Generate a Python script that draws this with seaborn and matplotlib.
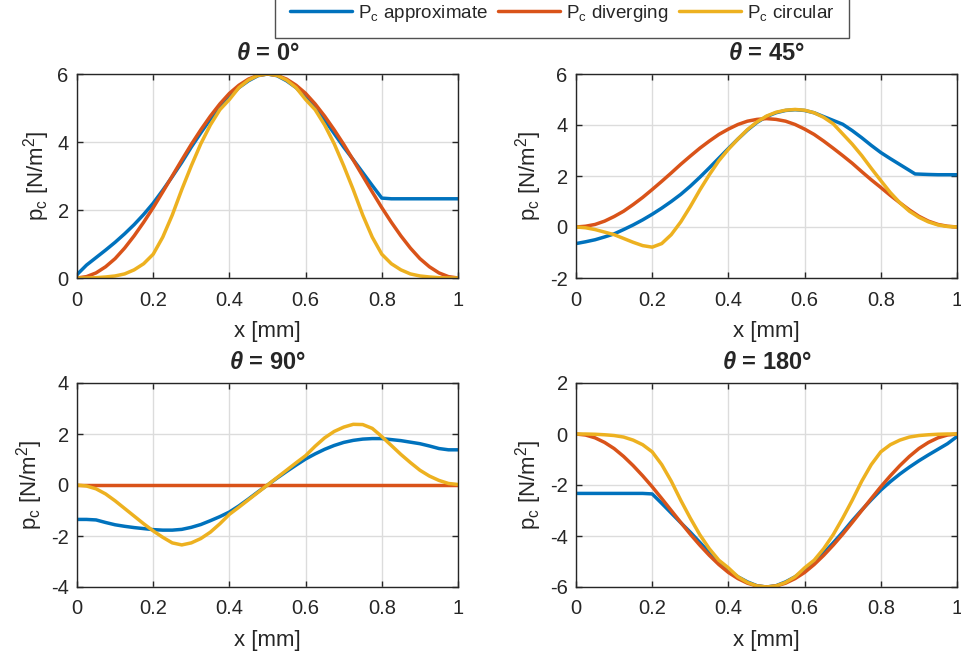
import numpy as np
import pandas as pd
import matplotlib
matplotlib.use("Agg")
import matplotlib.pyplot as plt
import seaborn as sns

# ---------------- data ----------------
x = [0.0, 0.025, 0.05, 0.075, 0.1, 0.125, 0.15, 0.175, 0.2, 0.225, 0.25, 0.275, 0.3, 0.325,
     0.35, 0.375, 0.4, 0.425, 0.45, 0.475, 0.5, 0.525, 0.55, 0.575, 0.6, 0.625, 0.65, 0.675,
     0.7, 0.725, 0.75, 0.775, 0.8, 0.825, 0.85, 0.875, 0.9, 0.925, 0.95, 0.975, 1.0]

# theta = 0
approx_0 = [0.1, 0.38, 0.6, 0.82, 1.05, 1.3, 1.57, 1.87, 2.2, 2.58, 2.98, 3.4, 3.85, 4.27,
            4.67, 5.02, 5.33, 5.6, 5.8, 5.95, 6.0, 5.95, 5.8, 5.6, 5.33, 5.0, 4.65, 4.25,
            3.85, 3.48, 3.1, 2.72, 2.35, 2.33, 2.33, 2.33, 2.33, 2.33, 2.33, 2.33, 2.33]
diverg_0 = [0.0, 0.04, 0.15, 0.33, 0.57, 0.88, 1.24, 1.64, 2.07, 2.53, 3.0, 3.47, 3.93, 4.36,
            4.76, 5.12, 5.43, 5.67, 5.85, 5.96, 6.0, 5.96, 5.85, 5.67, 5.43, 5.12, 4.76, 4.36,
            3.93, 3.47, 3.0, 2.53, 2.07, 1.64, 1.24, 0.88, 0.57, 0.33, 0.15, 0.04, 0.0]
circ_0 = [0.0, 0.0, 0.01, 0.03, 0.06, 0.12, 0.24, 0.42, 0.7, 1.2, 1.85, 2.6, 3.3, 3.95,
          4.5, 4.95, 5.25, 5.6, 5.82, 5.96, 6.0, 5.96, 5.82, 5.6, 5.25, 4.95, 4.5, 3.95,
          3.3, 2.6, 1.85, 1.2, 0.7, 0.42, 0.24, 0.12, 0.06, 0.03, 0.01, 0.0, 0.0]

# theta = 45
x_approx_45 = [0.0, 0.025, 0.05, 0.075, 0.1, 0.125, 0.15, 0.175, 0.2, 0.225, 0.25, 0.275, 0.3,
               0.325, 0.35, 0.375, 0.4, 0.425, 0.45, 0.475, 0.5, 0.525, 0.55, 0.575, 0.6, 0.625,
               0.65, 0.675, 0.7, 0.725, 0.75, 0.775, 0.8, 0.825, 0.85, 0.875, 0.89, 0.925,
               0.95, 0.975, 1.0]
approx_45 = [-0.65, -0.58, -0.5, -0.39, -0.27, -0.1, 0.08, 0.28, 0.5, 0.74, 1.0, 1.28, 1.6,
             1.95, 2.32, 2.7, 3.08, 3.45, 3.8, 4.1, 4.33, 4.48, 4.57, 4.6, 4.57, 4.48, 4.33,
             4.18, 4.03, 3.78, 3.5, 3.2, 2.92, 2.68, 2.45, 2.22, 2.08, 2.06, 2.05, 2.05, 2.05]
diverg_45 = [0.0, 0.03, 0.1, 0.23, 0.41, 0.62, 0.88, 1.16, 1.47, 1.79, 2.12, 2.46, 2.78, 3.09,
             3.37, 3.63, 3.84, 4.02, 4.15, 4.22, 4.25, 4.22, 4.15, 4.02, 3.84, 3.63, 3.37, 3.09,
             2.8, 2.5, 2.17, 1.85, 1.55, 1.24, 0.95, 0.67, 0.42, 0.23, 0.1, 0.03, 0.0]
circ_45 = [0.0, -0.03, -0.1, -0.2, -0.3, -0.45, -0.6, -0.73, -0.79, -0.65, -0.3, 0.2, 0.8,
           1.45, 2.05, 2.6, 3.05, 3.45, 3.82, 4.12, 4.35, 4.5, 4.58, 4.61, 4.58, 4.48, 4.3,
           4.05, 3.65, 3.25, 2.8, 2.3, 1.82, 1.35, 0.95, 0.62, 0.38, 0.2, 0.08, 0.02, 0.0]

# theta = 90
approx_90 = [-1.35, -1.35, -1.37, -1.47, -1.56, -1.62, -1.67, -1.71, -1.75, -1.77, -1.77,
             -1.74, -1.66, -1.55, -1.4, -1.24, -1.06, -0.82, -0.55, -0.27, 0.0, 0.27, 0.53,
             0.78, 1.02, 1.22, 1.4, 1.55, 1.67, 1.75, 1.8, 1.82, 1.82, 1.78, 1.74, 1.68, 1.62,
             1.53, 1.43, 1.38, 1.38]
diverg_90 = [0.0] * 41
circ_90 = [0.0, -0.04, -0.15, -0.35, -0.62, -0.92, -1.22, -1.52, -1.8, -2.05, -2.27, -2.35,
           -2.27, -2.1, -1.85, -1.52, -1.15, -0.87, -0.58, -0.29, 0.0, 0.29, 0.58, 0.87, 1.15,
           1.52, 1.85, 2.1, 2.27, 2.38, 2.37, 2.22, 1.9, 1.55, 1.2, 0.88, 0.58, 0.35, 0.18,
           0.06, 0.02]

# theta = 180
approx_180 = [-2.33, -2.33, -2.33, -2.33, -2.33, -2.33, -2.33, -2.33, -2.35, -2.72, -3.1,
              -3.48, -3.85, -4.25, -4.65, -5.0, -5.33, -5.6, -5.8, -5.95, -6.0, -5.95, -5.8,
              -5.6, -5.33, -5.02, -4.67, -4.27, -3.85, -3.4, -2.98, -2.58, -2.2, -1.87, -1.57,
              -1.3, -1.05, -0.82, -0.6, -0.38, -0.1]
diverg_180 = [0.0, -0.04, -0.15, -0.33, -0.57, -0.88, -1.24, -1.64, -2.07, -2.53, -3.0, -3.47,
              -3.93, -4.36, -4.76, -5.12, -5.43, -5.67, -5.85, -5.96, -6.0, -5.96, -5.85, -5.67,
              -5.43, -5.12, -4.76, -4.36, -3.93, -3.47, -3.0, -2.53, -2.07, -1.64, -1.24, -0.88,
              -0.57, -0.33, -0.15, -0.04, 0.0]
circ_180 = [0.0, 0.0, -0.01, -0.03, -0.06, -0.12, -0.24, -0.42, -0.7, -1.2, -1.85, -2.6, -3.3,
            -3.95, -4.5, -4.95, -5.25, -5.6, -5.82, -5.96, -6.0, -5.96, -5.82, -5.6, -5.25,
            -4.95, -4.5, -3.95, -3.3, -2.6, -1.85, -1.2, -0.7, -0.42, -0.24, -0.12, -0.06,
            -0.03, -0.01, 0.0, 0.0]

titles = ["0°", "45°", "90°", "180°"]
ylims = [(0, 6), (-2, 6), (-4, 4), (-6, 2)]
yticks = [[0, 2, 4, 6], [-2, 0, 2, 4, 6], [-4, -2, 0, 2, 4], [-6, -4, -2, 0, 2]]
xticks = [0, 0.2, 0.4, 0.6, 0.8, 1]
xticklabels = ["0", "0.2", "0.4", "0.6", "0.8", "1"]
series_names = ["P$_\\mathregular{c}$ approximate", "P$_\\mathregular{c}$ diverging",
                "P$_\\mathregular{c}$ circular"]
colors = ["#0072BD", "#D95319", "#EDB120"]

panels = [
    [(x, approx_0), (x, diverg_0), (x, circ_0)],
    [(x_approx_45, approx_45), (x, diverg_45), (x, circ_45)],
    [(x, approx_90), (x, diverg_90), (x, circ_90)],
    [(x, approx_180), (x, diverg_180), (x, circ_180)],
]

# ---------------- style ----------------
sns.set_theme(style="ticks")
plt.rcParams.update({
    "font.family": ["Liberation Sans", "DejaVu Sans"],
    "mathtext.fontset": "custom",
    "mathtext.rm": "Liberation Sans",
    "mathtext.it": "Liberation Sans:italic",
    "mathtext.bf": "Liberation Sans:bold",
    "mathtext.bfit": "Liberation Sans:bold:italic",
    "axes.unicode_minus": False,
    "text.color": "#262626",
    "axes.labelcolor": "#262626",
    "xtick.color": "#262626",
    "ytick.color": "#262626",
})

fig = plt.figure(figsize=(9.62, 6.57), dpi=100)
W, H = 962, 657
positions = [
    (77 / W, 1 - 278 / H, 381 / W, 204 / H),
    (576 / W, 1 - 278 / H, 381 / W, 204 / H),
    (77 / W, 1 - 587 / H, 381 / W, 204 / H),
    (576 / W, 1 - 587 / H, 381 / W, 204 / H),
]

handles = []
for i, pos in enumerate(positions):
    ax = fig.add_axes(pos)
    for j, (xs, ys) in enumerate(panels[i]):
        df = pd.DataFrame({"x": xs, "y": ys})
        sns.lineplot(data=df, x="x", y="y", ax=ax, color=colors[j], linewidth=2.5,
                     sort=False, estimator=None, label=series_names[j], legend=False)
    ax.set_xlim(0, 1)
    ax.set_ylim(*ylims[i])
    ax.set_xticks(xticks)
    ax.set_xticklabels(xticklabels)
    ax.set_yticks(yticks[i])
    ax.set_yticklabels([str(v) for v in yticks[i]])
    ax.grid(True, color="#dcdcdc", linewidth=1.0)
    ax.set_axisbelow(True)
    for s in ax.spines.values():
        s.set_visible(True)
        s.set_color("#262626")
        s.set_linewidth(1.0)
    ax.tick_params(direction="in", length=4, width=1.0, labelsize=14.5,
                   top=True, right=True)
    ax.tick_params(axis="x", pad=9)
    ax.tick_params(axis="y", pad=6)
    ax.set_xlabel("x [mm]", fontsize=16, labelpad=8)
    ax.set_ylabel("p$_\\mathregular{c}$ [N/m$^\\mathregular{2}$]", fontsize=16, labelpad=4)
    ax.set_title("$\\mathbfit{\\theta}$ = " + titles[i], fontsize=17,
                 fontweight="bold", pad=10)
    if i == 0:
        handles = ax.get_lines()[:3]

leg = fig.legend(handles, series_names, loc="lower center", ncol=3,
                 bbox_to_anchor=(562 / W, 1 - 38 / H), fontsize=13.6, frameon=True,
                 fancybox=False, edgecolor="#262626", handlelength=3.3,
                 handletextpad=0.3, columnspacing=0.55, borderpad=0.75, borderaxespad=0)
leg.get_frame().set_linewidth(1.0)

fig.savefig("out.png", dpi=100)
